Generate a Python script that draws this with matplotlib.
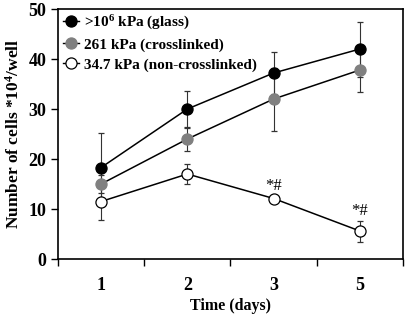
import matplotlib
matplotlib.use("Agg")
import matplotlib.pyplot as plt
from matplotlib.lines import Line2D
import numpy as np

days = ["1", "2", "3", "5"]
glass = [18.3, 30.0, 37.2, 42.0]
glass_err = [7.0, 3.6, 4.1, 5.5]
cross = [15.0, 24.0, 32.0, 37.8]
cross_err = [1.8, 2.3, 6.3, 4.3]
noncross = [11.5, 17.0, 12.1, 5.6]
noncross_err = [3.7, 2.0, 0.5, 2.1]
labels = [">10$^{6}$ kPa (glass)", "261 kPa (crosslinked)", "34.7 kPa (non-crosslinked)"]
sig_idx = [2, 3]
sig_text = "*#"

plt.rcParams['font.family'] = ['Liberation Serif', 'DejaVu Serif']
plt.rcParams['font.weight'] = 'bold'
plt.rcParams['mathtext.fontset'] = 'custom'
plt.rcParams['mathtext.rm'] = 'Liberation Serif:bold'
plt.rcParams['mathtext.it'] = 'Liberation Serif:bold'
plt.rcParams['mathtext.bf'] = 'Liberation Serif:bold'

fig = plt.figure(figsize=(4.1, 3.15), dpi=100)
ax = fig.add_axes([58/410, 1-259/315, (403-58)/410, (259-9)/315])
x = np.arange(len(days))

series = [(glass, glass_err, 'black', 'black'),
          (cross, cross_err, '#808080', '#808080'),
          (noncross, noncross_err, 'white', 'black')]
handles = []
for (vals, err, fc, ec), lab in zip(series, labels):
    ax.errorbar(x, vals, yerr=err, color='black', ecolor='#333333', elinewidth=0.8,
                capsize=2.5, capthick=0.8, lw=1.1, marker='o', ms=8,
                mfc=fc, mec=ec, mew=0.9, zorder=3)
    handles.append(Line2D([], [], color='black', lw=1.0, marker='o', ms=8,
                          mfc=fc, mec=ec, mew=0.9, label=lab))

for i in sig_idx:
    ax.text(x[i], noncross[i] + noncross_err[i] + 0.3, sig_text, ha='center', va='bottom',
            fontsize=12, fontweight='normal')

ax.set_xlim(-0.5, len(days) - 0.5)
ax.set_ylim(0, 50)
ax.set_yticks([0, 10, 20, 30, 40, 50])
ax.set_xticks(x)
ax.set_xticklabels(days)
ax.set_xticks(np.arange(-0.5, len(days)), minor=True)
ax.tick_params(axis='x', which='major', length=0, pad=13, labelsize=13)
ax.tick_params(axis='x', which='minor', length=5, direction='out', width=1)
ax.tick_params(axis='y', length=5, direction='out', width=1, labelsize=13)
for s in ax.spines.values():
    s.set_linewidth(1.2)
ax.set_xlabel("Time (days)", fontsize=11.5, fontweight='bold', labelpad=3)
ax.set_ylabel("Number of cells *10$^{4}$/well", fontsize=12.5, fontweight='bold', labelpad=4)

leg = ax.legend(handles=handles, loc='upper left', frameon=False, fontsize=11, handlelength=1.1,
                handletextpad=0.3, borderaxespad=0.2, labelspacing=0.4, borderpad=0.1)
fig.savefig("out.png", dpi=100)
